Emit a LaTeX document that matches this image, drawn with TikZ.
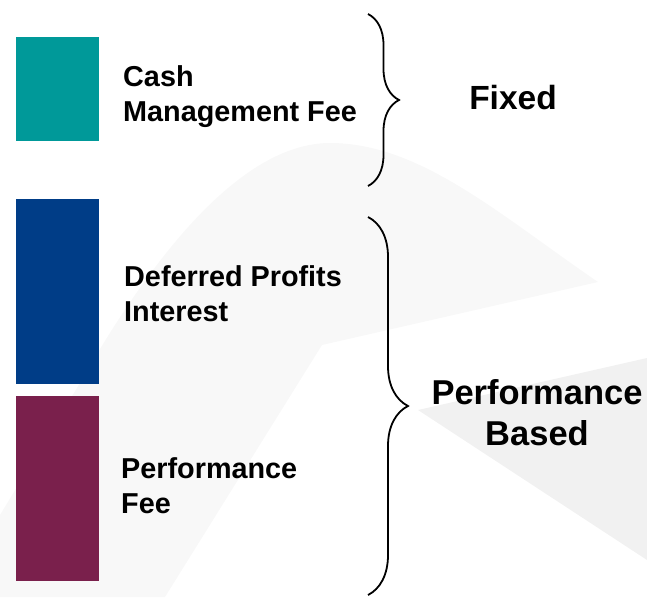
\documentclass[tikz,border=0pt]{standalone}
\usepackage{xcolor}
\usepackage{fontspec}
\setmainfont{Liberation Sans}
\usetikzlibrary{positioning,decorations.pathreplacing}
\definecolor{cashteal}{RGB}{0,153,153}
\definecolor{deferredblue}{RGB}{0,61,135}
\definecolor{perfmaroon}{RGB}{122,32,76}
\definecolor{markA}{RGB}{248,248,248}
\definecolor{markB}{RGB}{241,241,241}

\begin{document}
\begin{tikzpicture}[x=1pt,y=-1pt,
    feebox/.style={inner sep=0pt, minimum width=83pt, minimum height=185pt},
    feelabel/.style={anchor=north west, inner sep=0pt, align=left, font=\fontsize{28.8}{35}\selectfont\bfseries},
    grouplabel/.style={anchor=north, inner sep=0pt, align=center, font=\fontsize{34.5}{41}\selectfont\bfseries},
    groupbrace/.style={decorate, line width=1.8pt}]
        \useasboundingbox (0,0) rectangle (647,597);

        % Watermark
        \fill[markA] (0,515) -- (80,383) .. controls (150,260) and (240,143) .. (330,143)
            .. controls (420,143) and (500,215) .. (598,282) -- (322,345) -- (165,597) -- (0,597) -- cycle;
        \fill[markB] (418,410) -- (647,358) -- (647,560) -- cycle;

        % Fee blocks
        \node[feebox, fill=cashteal, minimum height=104pt] (cash) at (57.5,89) {};
        \node[feebox, fill=deferredblue, below=58pt of cash] (deferred) {};
        \node[feebox, fill=perfmaroon, below=11pt of deferred] (perffee) {};

        % Fee labels
        \node[feelabel] (cashtext) at (123,65) {Cash\\Management Fee};
        \node[feelabel] (deferredtext) at (124,265) {Deferred Profits\\Interest};
        \node[feelabel] (perffeetext) at (121,457) {Performance\\Fee};

        % Braces
        \coordinate (fixtop) at (368,14);
        \coordinate (fixbot) at (368,186);
        \draw[groupbrace, decoration={brace, amplitude=31pt}] (fixtop) -- (fixbot);
        \coordinate (perftop) at (368,217);
        \coordinate (perfbot) at (368,595);
        \draw[groupbrace, decoration={brace, amplitude=40pt}] (perftop) -- (perfbot);

        % Group labels
        \node[grouplabel, font=\fontsize{33.5}{41}\selectfont\bfseries] (fixed) at (513,85) {Fixed};
        \node[grouplabel] (perfbased) at (537,379) {Performance\\Based};
\end{tikzpicture}
\end{document}
